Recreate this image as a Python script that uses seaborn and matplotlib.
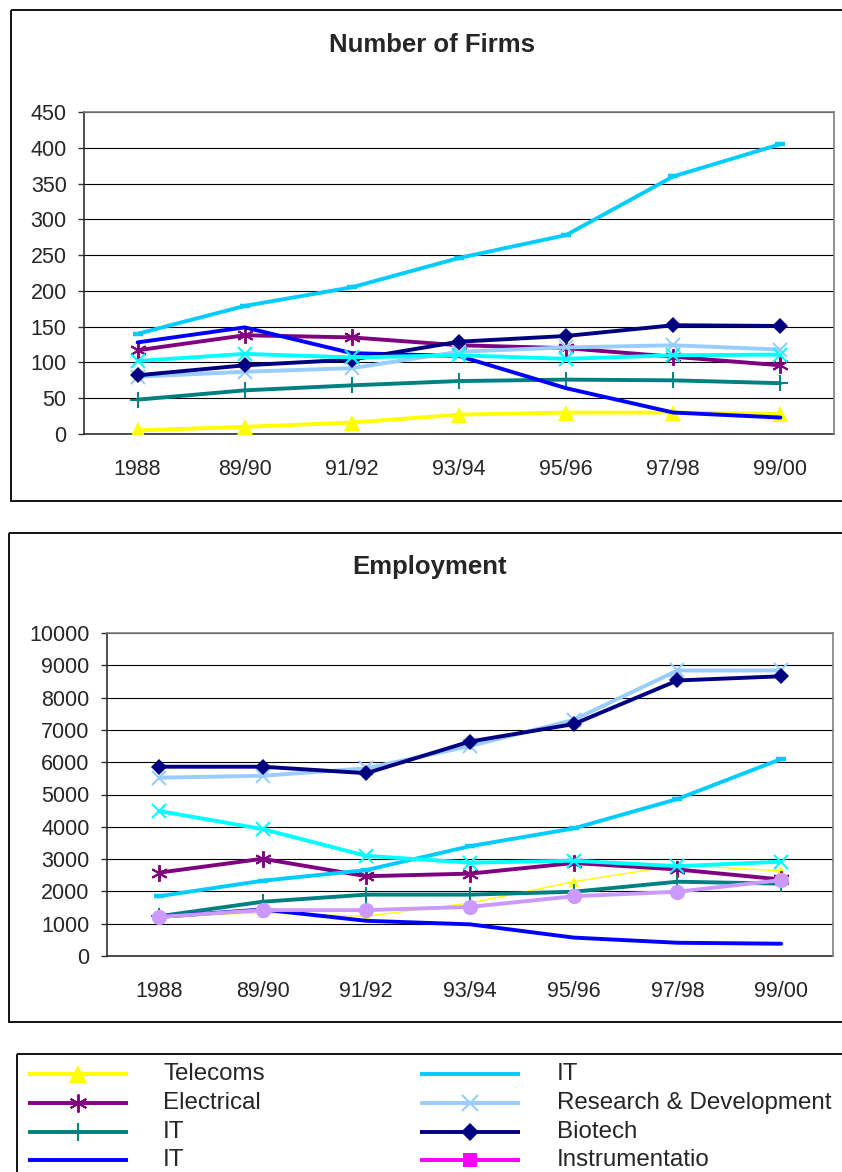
import matplotlib
matplotlib.use("Agg")
import matplotlib.pyplot as plt
import seaborn as sns
from matplotlib.patches import Rectangle

# ---- data ---------------------------------------------------------------
periods = ["1988", "89/90", "91/92", "93/94", "95/96", "97/98", "99/00"]

firms_telecoms = [5, 10, 16, 27, 30, 30, 28]
firms_electrical = [117, 138, 135, 124, 120, 108, 96]
firms_it_a = [48, 61, 68, 74, 76, 75, 71]
firms_it_b = [128, 149, 113, 109, 64, 30, 23]
firms_it_c = [140, 179, 205, 246, 278, 360, 405]
firms_rnd = [80, 87, 92, 115, 121, 124, 118]
firms_biotech = [82, 96, 104, 129, 137, 152, 151]
firms_other_a = [102, 112, 107, 110, 105, 110, 111]

emp_telecoms = [1260, 1330, 1230, 1640, 2300, 2810, 2640]
emp_electrical = [2580, 3010, 2470, 2550, 2880, 2680, 2370]
emp_it_a = [1230, 1680, 1900, 1900, 1990, 2300, 2240]
emp_it_b = [1210, 1440, 1090, 980, 570, 410, 380]
emp_it_c = [1850, 2330, 2660, 3400, 3950, 4860, 6100]
emp_rnd = [5520, 5580, 5810, 6500, 7310, 8840, 8840]
emp_biotech = [5860, 5860, 5660, 6640, 7180, 8530, 8660]
emp_other_a = [4490, 3930, 3100, 2890, 2950, 2780, 2920]
emp_other_b = [1210, 1420, 1420, 1520, 1850, 1990, 2350]

legend_labels = ["Telecoms", "Electrical", "IT", "IT",
                 "IT", "Research & Development", "Biotech", "Instrumentatio"]

# ---- styles -------------------------------------------------------------
ASTER = (6, 2, 0)
style = {
    "telecoms":   dict(color="#FFFF00", marker="^", ms=12, mew=0, lw=2.8),
    "electrical": dict(color="#800080", marker=ASTER, ms=12, mew=1.4, lw=2.8),
    "it_a":       dict(color="#008080", marker="+", ms=12, mew=1.4, lw=2.8),
    "it_b":       dict(color="#0000FF", marker=None, ms=0, mew=0, lw=2.8),
    "it_c":       dict(color="#00CCFF", marker="_", ms=7, mew=3.2, lw=2.8),
    "rnd":        dict(color="#99CCFF", marker="x", ms=10.5, mew=1.5, lw=2.8),
    "biotech":    dict(color="#000080", marker="D", ms=8, mew=0, lw=2.8),
    "instr":      dict(color="#FF00FF", marker="s", ms=9, mew=0, lw=2.8),
    "other_a":    dict(color="#00FFFF", marker="x", ms=10.5, mew=1.5, lw=2.8),
    "other_b":    dict(color="#CC99FF", marker="o", ms=11, mew=0, lw=2.8),
}

firms_series = [
    ("telecoms", firms_telecoms), ("electrical", firms_electrical),
    ("it_a", firms_it_a), ("it_b", firms_it_b), ("it_c", firms_it_c),
    ("rnd", firms_rnd), ("biotech", firms_biotech), ("other_a", firms_other_a),
]
emp_series = [
    ("telecoms", emp_telecoms), ("electrical", emp_electrical),
    ("it_a", emp_it_a), ("it_b", emp_it_b), ("it_c", emp_it_c),
    ("rnd", emp_rnd), ("biotech", emp_biotech), ("other_a", emp_other_a),
    ("other_b", emp_other_b),
]

sns.set_style("white")
plt.rcParams["font.family"] = ["Liberation Sans", "DejaVu Sans"]

W, H = 842, 1172
fig = plt.figure(figsize=(W / 100, H / 100), dpi=100)

# overlay in pixel coordinates for frames, titles and the key
ov = fig.add_axes([0, 0, 1, 1], zorder=0)
ov.set_xlim(0, W)
ov.set_ylim(H, 0)
ov.axis("off")
ov.patch.set_alpha(0)


def px_axes(left, top, right, bottom):
    return fig.add_axes([left / W, 1 - bottom / H, (right - left) / W,
                         (bottom - top) / H], zorder=1)


def draw_panel(ax, series, ymax, ystep, thin_telecoms=False):
    xs = list(range(len(periods)))
    for key, vals in series:
        st = dict(style[key])
        lw = st["lw"]
        ms = st["ms"]
        if thin_telecoms and key == "telecoms":
            lw, ms = 1.0, 7
        kw = dict(color=st["color"], linewidth=lw)
        if st["marker"] is not None:
            kw.update(marker=st["marker"], markersize=ms,
                      markeredgecolor=st["color"],
                      markeredgewidth=st["mew"], markerfacecolor=st["color"])
        sns.lineplot(x=xs, y=vals, ax=ax, sort=False, **kw)
    ax.set_xlim(-0.5, len(periods) - 0.5)
    ax.set_ylim(0, ymax)
    ax.set_yticks(range(0, ymax + 1, ystep))
    ax.set_xticks(xs)
    ax.set_xticklabels(periods)
    ax.set_xticks([i - 0.5 for i in range(len(periods) + 1)], minor=True)
    ax.tick_params(axis="x", which="major", length=0, pad=18, labelsize=15.5)
    ax.tick_params(axis="x", which="minor", length=4.5, width=1.0,
                   color="#303030", direction="out")
    ax.tick_params(axis="y", which="major", length=4.5, width=1.0,
                   color="#303030", direction="out", pad=8, labelsize=15.5,
                   left=True)
    ax.yaxis.grid(True, color="black", linewidth=0.8)
    ax.xaxis.grid(False)
    ax.set_axisbelow(True)
    for side in ("left", "bottom"):
        ax.spines[side].set_color("#303030")
        ax.spines[side].set_linewidth(1.2)
        ax.spines[side].set_zorder(0.5)
    for side in ("top", "right"):
        ax.spines[side].set_color("#808080")
        ax.spines[side].set_linewidth(1.2)
    ax.set_xlabel("")
    ax.set_ylabel("")


# outer frames
for (x0, y0, w, h) in [(11, 10, 900, 491), (9, 533, 900, 489),
                        (17, 1054, 900, 200)]:
    ov.add_patch(Rectangle((x0, y0), w, h, fill=False, edgecolor="black",
                           linewidth=1.3))

ov.text(432, 52, "Number of Firms", ha="center", va="baseline",
        fontsize=18.5, fontweight="bold")
ov.text(430, 574, "Employment", ha="center", va="baseline",
        fontsize=18.5, fontweight="bold")

ax1 = px_axes(84, 112, 834, 434)
draw_panel(ax1, firms_series, 450, 50)

ax2 = px_axes(107, 633, 833, 956)
draw_panel(ax2, emp_series, 10000, 1000, thin_telecoms=True)

# key
legend_keys = ["telecoms", "electrical", "it_a", "it_b",
               "it_c", "rnd", "biotech", "instr"]
rows_y = [1074, 1103, 1132, 1160]
cols = [(28, 128, 163), (420, 520, 557)]
for i, (key, label) in enumerate(zip(legend_keys, legend_labels)):
    c = cols[i // 4]
    y = rows_y[i % 4]
    st = style[key]
    ov.plot([c[0], c[1]], [y, y], color=st["color"], linewidth=st["lw"],
            solid_capstyle="butt")
    if st["marker"] is not None and key != "it_c":
        ov.plot([(c[0] + c[1]) / 2], [y], marker=st["marker"],
                markersize=st["ms"] + 1, color=st["color"],
                markeredgecolor=st["color"], markeredgewidth=st["mew"],
                linestyle="none")
    ov.text(c[2], y, label, ha="left", va="center", fontsize=17.4)

fig.savefig("out.png", dpi=100)
